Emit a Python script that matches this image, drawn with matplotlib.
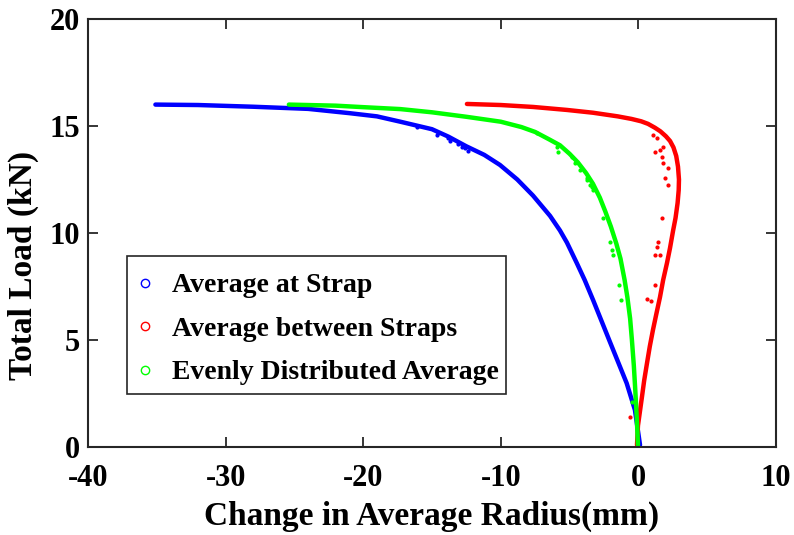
import matplotlib.pyplot as plt
from matplotlib.patches import Rectangle
import numpy as np

plt.rcParams['font.family'] = ['Liberation Serif', 'DejaVu Serif']
plt.rcParams['font.weight'] = 'bold'
plt.rcParams['axes.unicode_minus'] = False

# radius change (mm) vs total load (kN)
strap_x = [-35.1, -32.0, -28.0, -24.0, -21.0, -19.0, -17.3, -15.0, -13.8, -12.5, -11.2,
           -10.06, -8.8, -7.66, -6.42, -5.70, -5.19, -4.48, -3.9, -3.28, -2.06, -0.85,
           -0.25, 0.12]
strap_y = [16.0, 15.98, 15.9, 15.8, 15.6, 15.45, 15.2, 14.85, 14.5, 14.05, 13.65,
           13.18, 12.5, 11.75, 10.8, 10.12, 9.55, 8.6, 7.8, 6.85, 4.9, 2.98,
           1.73, 0.09]

between_x = [-12.46, -10.0, -7.66, -5.19, -3.3, -1.5, -0.5, 0.2, 0.7, 1.2, 1.6, 2.0, 2.3,
             2.55, 2.75, 2.88, 2.95, 2.93, 2.85, 2.7, 2.52, 2.3, 2.08, 1.8, 1.57, 1.3,
             1.06, 0.83, 0.63, 0.42, 0.26, 0.1, -0.03, -0.10]
between_y = [16.03, 15.98, 15.89, 15.75, 15.62, 15.45, 15.33, 15.22, 15.1, 14.92, 14.75,
             14.52, 14.3, 14.0, 13.6, 13.1, 12.5, 12.0, 11.4, 10.7, 10.1, 9.3, 8.6, 7.8,
             7.0, 6.2, 5.47, 4.7, 3.93, 3.1, 2.34, 1.6, 1.0, 0.09]

even_x = [-25.4, -22.0, -20.0, -17.3, -15.0, -12.5, -10.0, -8.5, -7.5, -6.5, -5.7, -5.0,
          -4.4, -3.8, -3.3, -2.8, -2.4, -2.0, -1.6, -1.3, -1.0, -0.8, -0.6, -0.47, -0.33,
          -0.22, -0.12, -0.03]
even_y = [16.0, 15.95, 15.88, 15.79, 15.64, 15.43, 15.2, 14.95, 14.72, 14.38, 14.1, 13.7,
          13.3, 12.8, 12.3, 11.65, 11.0, 10.3, 9.5, 8.8, 7.8, 7.0, 6.0, 5.0, 3.8,
          2.6, 1.4, 0.09]

# stray readings off the main trend
strap_sx = [-16.1, -14.64, -14.56, -13.84, -13.69, -13.11, -12.82, -12.6, -12.38]
strap_sy = [14.95, 14.58, 14.67, 14.44, 14.30, 14.16, 14.02, 13.97, 13.83]
between_sx = [1.06, 1.35, 1.21, 1.57, 1.79, 1.72, 1.79, 2.15, 1.93, 2.15, 1.72, 1.43,
              1.35, 1.21, 1.57, 1.21, 0.63, 0.92, -0.61]
between_sy = [14.58, 14.44, 13.79, 13.88, 14.02, 13.55, 13.27, 13.04, 12.57, 12.24, 10.70,
              9.58, 9.35, 8.97, 8.97, 7.57, 6.92, 6.82, 1.40]
even_sx = [-7.37, -5.92, -5.84, -4.83, -4.61, -4.24, -3.73, -3.52, -3.30, -3.73, -3.37,
           -2.57, -2.06, -1.91, -1.84, -1.40, -1.26, -0.47]
even_sy = [14.67, 14.02, 13.79, 13.55, 13.27, 12.94, 12.57, 12.24, 12.01, 12.48, 12.15,
           10.70, 9.58, 9.21, 8.97, 7.57, 6.87, 2.1]

labels = ['Average at Strap', 'Average between Straps', 'Evenly Distributed Average']
colors = ['#0000ff', '#ff0000', '#00ff00']
x_ticks = [-40, -30, -20, -10, 0, 10]
y_ticks = [0, 5, 10, 15, 20]

fig = plt.figure(figsize=(7.94, 5.35), dpi=100)
ax = fig.add_axes([0.1108, 0.1645, 0.8665, 0.8])

series = [(strap_x, strap_y, strap_sx, strap_sy),
          (between_x, between_y, between_sx, between_sy),
          (even_x, even_y, even_sx, even_sy)]
for (cx, cy, sx, sy), c, lab in zip(series, colors, labels):
    ax.plot(cx, cy, color=c, lw=3.2, solid_capstyle='round', solid_joinstyle='round', zorder=2)
    ax.plot(sx, sy, '.', color=c, ms=4, zorder=2)
    # open circle used only for the legend entry
    ax.plot([], [], 'o', mfc='none', mec=c, ms=6, mew=1, label=lab)

ax.set_xlim(-40, 10)
ax.set_ylim(0, 20)
ax.set_xticks(x_ticks)
ax.set_yticks(y_ticks)
ax.tick_params(direction='in', length=7, width=1.3, top=True, right=True,
               labelsize=22, color='#262626')
ax.tick_params(axis='x', pad=12)
ax.tick_params(axis='y', pad=6)
for s in ax.spines.values():
    s.set_linewidth(1.5)
    s.set_color('#262626')

ax.set_xlabel('Change in Average Radius(mm)', fontsize=24, fontweight='bold', labelpad=6)
ax.set_ylabel('Total Load (kN)', fontsize=24, fontweight='bold')
ax.yaxis.set_label_coords(-0.071, 0.425)

# legend box drawn separately so its padding can differ per side
box = Rectangle((0.0567, 0.1238), 0.5509, 0.3225, transform=ax.transAxes,
                facecolor='white', edgecolor='#262626', lw=1.2, zorder=4)
ax.add_patch(box)
leg = ax.legend(loc='upper left', bbox_to_anchor=(0.0708, 0.4066), borderaxespad=0,
                fontsize=20, frameon=False, handlelength=0.6,
                handletextpad=0.67, labelspacing=0.65, borderpad=0)
leg.set_zorder(5)
for t in leg.get_texts():
    t.set_fontweight('bold')

fig.savefig('out.png', dpi=100)
